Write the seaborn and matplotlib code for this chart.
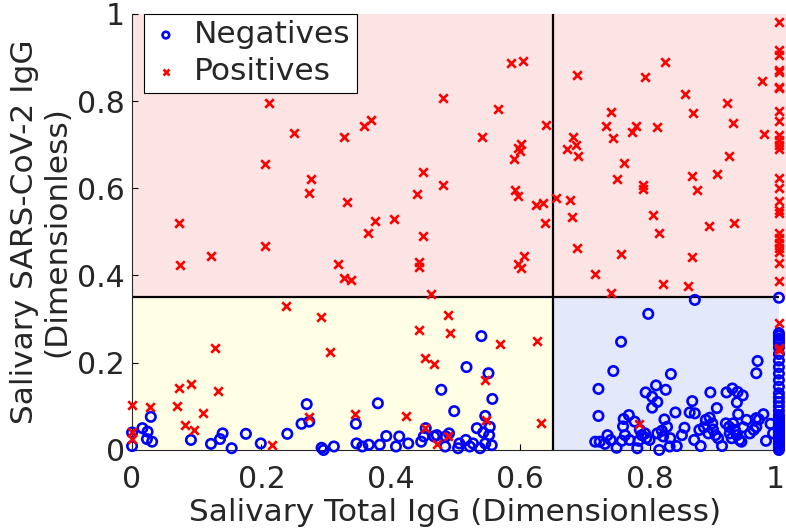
import numpy as np
import pandas as pd
import seaborn as sns
import matplotlib.pyplot as plt
import matplotlib.transforms as mtransforms
from matplotlib.patches import Rectangle

# --- cut-offs ---
total_cut = 0.65
sars_cut = 0.35

# --- negatives (x = salivary total IgG, y = salivary SARS-CoV-2 IgG) ---
neg_x = [0.540, 0.517, 0.551, 0.478, 0.557, 0.498, 0.546, 0.270, 0.380, 0.029,
         0.262, 0.274, 0.346, 0.016, 0.024, 0.0, 0.023, 0.031, 0.0, 0.091,
         0.122, 0.136, 0.140, 0.154, 0.176, 0.199, 0.240, 0.293, 0.296, 0.312,
         0.347, 0.356, 0.366, 0.383, 0.393, 0.408, 0.413, 0.427, 0.447, 0.451,
         0.454, 0.467, 0.471, 0.485, 0.490, 0.484, 0.504, 0.506, 0.516, 0.533,
         0.543, 0.553, 0.552, 0.556, 0.538, 0.527, 0.522, 0.546,
         0.870, 0.798, 0.756, 0.744, 0.721, 0.721, 0.833, 0.810, 0.794, 0.804,
         0.812, 0.804, 0.825, 0.967, 0.965, 0.894, 0.919, 0.928, 0.936, 0.944,
         0.935, 0.904, 0.866, 0.862, 0.870, 0.840, 0.937, 0.976, 0.965, 0.987,
         0.760, 0.768, 0.759, 0.777, 0.823,
         0.716, 0.723, 0.735, 0.740, 0.731, 0.749, 0.757, 0.762, 0.769, 0.781,
         0.783, 0.788, 0.793, 0.795, 0.785, 0.800, 0.815, 0.812, 0.819, 0.821,
         0.827, 0.832, 0.831, 0.842, 0.850, 0.854, 0.869, 0.879, 0.877, 0.884,
         0.887, 0.893, 0.891, 0.897, 0.898, 0.902, 0.906, 0.912, 0.918, 0.923,
         0.924, 0.927, 0.929, 0.932, 0.935, 0.939, 0.942, 0.945, 0.950, 0.955,
         0.961, 0.965, 0.969, 0.980, 0.991]
neg_y = [0.261, 0.190, 0.176, 0.138, 0.117, 0.089, 0.078, 0.105, 0.107, 0.076,
         0.060, 0.065, 0.060, 0.050, 0.042, 0.040, 0.025, 0.019, 0.009, 0.023,
         0.014, 0.025, 0.038, 0.004, 0.037, 0.015, 0.037, 0.005, 0.0, 0.008,
         0.015, 0.008, 0.012, 0.012, 0.032, 0.008, 0.031, 0.015, 0.019, 0.031,
         0.050, 0.031, 0.034, 0.031, 0.038, 0.008, 0.004, 0.015, 0.023, 0.050,
         0.040, 0.053, 0.034, 0.011, 0.004, 0.015, 0.008, 0.015,
         0.344, 0.312, 0.248, 0.181, 0.140, 0.078, 0.174, 0.148, 0.132, 0.122,
         0.110, 0.097, 0.138, 0.204, 0.176, 0.132, 0.132, 0.141, 0.133, 0.125,
         0.109, 0.096, 0.112, 0.086, 0.084, 0.086, 0.082, 0.082, 0.073, 0.060,
         0.071, 0.080, 0.054, 0.065, 0.070,
         0.019, 0.019, 0.034, 0.023, 0.014, 0.005, 0.021, 0.034, 0.023, 0.004,
         0.021, 0.034, 0.038, 0.027, 0.046, 0.023, 0.0, 0.038, 0.044, 0.031,
         0.053, 0.027, 0.008, 0.009, 0.034, 0.051, 0.023, 0.009, 0.046, 0.052,
         0.069, 0.074, 0.038, 0.061, 0.047, 0.034, 0.027, 0.009, 0.061, 0.053,
         0.038, 0.027, 0.061, 0.046, 0.034, 0.023, 0.019, 0.052, 0.069, 0.038,
         0.046, 0.053, 0.070, 0.021, 0.038]
# negatives saturated at total IgG = 1
neg_y_at_one = [0.349, 0.268, 0.262, 0.255, 0.250, 0.245, 0.235, 0.220, 0.205, 0.190,
                0.175, 0.160, 0.145, 0.130, 0.120, 0.110, 0.100, 0.090, 0.080, 0.075,
                0.070, 0.065, 0.060, 0.055, 0.050, 0.045, 0.040, 0.035, 0.030, 0.025,
                0.020, 0.015, 0.010, 0.005, 0.0]

# --- positives ---
pos_x = [0.688, 0.793, 0.824, 0.974, 0.855, 0.920, 0.740, 0.867, 0.929, 0.640,
         0.733, 0.779, 0.773, 0.811, 0.977, 0.682, 0.744, 0.686, 0.673, 0.690,
         0.923, 0.761, 0.866, 0.905, 0.749, 0.790, 0.790, 0.874, 0.656, 0.635,
         0.677, 0.680, 0.806, 0.638, 0.815, 0.892, 0.930, 0.688, 0.756, 0.866,
         0.716, 0.821, 0.860, 0.741,
         0.586, 0.605, 0.211, 0.480, 0.566, 0.251, 0.327, 0.359, 0.370, 0.541,
         0.601, 0.597, 0.599, 0.590, 0.206, 0.450, 0.277, 0.273, 0.480, 0.441,
         0.592, 0.596, 0.624, 0.333, 0.073, 0.376, 0.405, 0.365, 0.450, 0.206,
         0.074, 0.122, 0.319, 0.327, 0.338, 0.444, 0.444, 0.596, 0.606, 0.602,
         0.462,
         0.238, 0.292, 0.306, 0.128, 0.488, 0.491, 0.444, 0.453, 0.467, 0.569,
         0.626, 0.545, 0.073, 0.091, 0.133, 0.0, 0.028, 0.070, 0.110, 0.082,
         0.095, 0.274, 0.344, 0.423, 0.547, 0.632, 0.0, 0.0, 0.217, 0.453,
         0.471, 0.489,
         0.784]
pos_y = [0.859, 0.855, 0.890, 0.846, 0.816, 0.795, 0.774, 0.772, 0.750, 0.745,
         0.742, 0.742, 0.729, 0.740, 0.724, 0.717, 0.716, 0.699, 0.690, 0.674,
         0.674, 0.658, 0.628, 0.633, 0.621, 0.608, 0.599, 0.596, 0.577, 0.566,
         0.573, 0.534, 0.538, 0.520, 0.497, 0.513, 0.521, 0.463, 0.449, 0.442,
         0.404, 0.381, 0.376, 0.359,
         0.888, 0.892, 0.795, 0.807, 0.781, 0.726, 0.718, 0.743, 0.757, 0.718,
         0.702, 0.692, 0.686, 0.667, 0.655, 0.637, 0.621, 0.589, 0.607, 0.587,
         0.596, 0.583, 0.562, 0.569, 0.520, 0.525, 0.530, 0.497, 0.491, 0.468,
         0.424, 0.445, 0.427, 0.395, 0.390, 0.432, 0.419, 0.427, 0.445, 0.417,
         0.358,
         0.330, 0.305, 0.225, 0.234, 0.310, 0.268, 0.275, 0.210, 0.197, 0.243,
         0.250, 0.161, 0.142, 0.151, 0.135, 0.103, 0.098, 0.101, 0.085, 0.057,
         0.046, 0.076, 0.083, 0.078, 0.069, 0.061, 0.042, 0.025, 0.011, 0.050,
         0.014, 0.031,
         0.059]
pos_y_at_one = [0.982, 0.917, 0.906, 0.872, 0.867, 0.833, 0.830, 0.776, 0.755, 0.722,
                0.711, 0.700, 0.690, 0.624, 0.600, 0.571, 0.550, 0.543, 0.497, 0.486,
                0.475, 0.463, 0.454, 0.428, 0.388, 0.290, 0.234, 0.229]

neg = pd.DataFrame({"total": neg_x + [1.0] * len(neg_y_at_one),
                    "sars": neg_y + neg_y_at_one})
pos = pd.DataFrame({"total": pos_x + [1.0] * len(pos_y_at_one),
                    "sars": pos_y + pos_y_at_one})

sns.set_theme(style="white")
plt.rcParams['font.family'] = ['DejaVu Sans']

fig = plt.figure(figsize=(7.86, 5.30), dpi=100)
ax = fig.add_axes([0.168, 0.151, 0.823, 0.823])

# shaded quadrants
ax.add_patch(Rectangle((0, sars_cut), 1.012, 1 - sars_cut, facecolor="#fde4e4",
                       edgecolor="none", clip_on=False, zorder=0))
ax.add_patch(Rectangle((0, 0), total_cut, sars_cut, facecolor="#ffffe6",
                       edgecolor="none", zorder=0))
ax.add_patch(Rectangle((total_cut, 0), 1 - total_cut, sars_cut, facecolor="#e3e8fb",
                       edgecolor="none", zorder=0))
ax.axhline(sars_cut, color="black", linewidth=1.6, zorder=1)
ax.axvline(total_cut, color="black", linewidth=1.6, zorder=1)

sns.scatterplot(data=neg, x="total", y="sars", ax=ax, marker="o", s=46,
                color="blue", facecolor="none", edgecolor="blue", linewidth=1.9,
                label="Negatives", clip_on=False, zorder=3)
sns.scatterplot(data=pos, x="total", y="sars", ax=ax, marker="x", s=38,
                color="red", linewidth=1.9, label="Positives", clip_on=False, zorder=4)

ax.set_xlim(0, 1)
ax.set_ylim(0, 1)
ticks = [0, 0.2, 0.4, 0.6, 0.8, 1]
tick_labels = ["0", "0.2", "0.4", "0.6", "0.8", "1"]
ax.set_xticks(ticks, tick_labels)
ax.set_yticks(ticks, tick_labels)
ax.tick_params(direction="in", length=4, width=0.8, labelsize=21.5, colors="black",
               labelcolor="#262626", bottom=True, left=True)
ax.tick_params(axis="x", pad=10.5)
ax.tick_params(axis="y", pad=5)
# last x label sits on the figure edge: nudge it a few pixels inwards
last = ax.get_xticklabels()[-1]
last.set_transform(last.get_transform() +
                   mtransforms.ScaledTranslation(-4 / 100, 0, fig.dpi_scale_trans))
ax.set_xlabel("Salivary Total IgG (Dimensionless)", fontsize=22.5, labelpad=3)
ax.set_ylabel("Salivary SARS-CoV-2 IgG\n(Dimensionless)", fontsize=22.5,
              labelpad=4, linespacing=1.15)

for side in ["top", "right"]:
    ax.spines[side].set_visible(False)
for side in ["left", "bottom"]:
    ax.spines[side].set_color("#262626")
    ax.spines[side].set_linewidth(0.8)

leg = ax.legend(loc="upper left", bbox_to_anchor=(144 / 786, 1 - 14 / 530),
                bbox_transform=fig.transFigure, borderaxespad=0,
                fontsize=22.5, frameon=True, fancybox=False, framealpha=1,
                borderpad=0.2, handlelength=1.0, handletextpad=0.4,
                labelspacing=0.26, markerscale=0.7)
leg.get_frame().set_edgecolor("black")
leg.get_frame().set_linewidth(0.8)

fig.savefig("out.png", dpi=100)
